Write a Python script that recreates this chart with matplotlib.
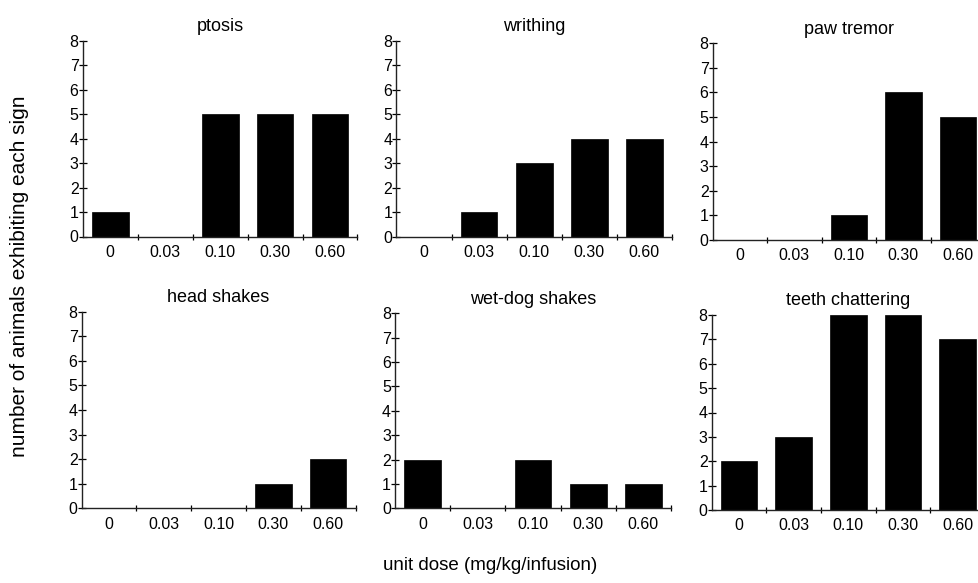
import matplotlib
matplotlib.use("Agg")
import matplotlib.pyplot as plt
import numpy as np

plt.rcParams['font.family'] = ['Liberation Sans', 'DejaVu Sans']

doses = ["0", "0.03", "0.10", "0.30", "0.60"]
titles = ["ptosis", "writhing", "paw tremor", "head shakes", "wet-dog shakes", "teeth chattering"]
ptosis = [1, 0, 5, 5, 5]
writhing = [0, 1, 3, 4, 4]
paw_tremor = [0, 0, 1, 6, 5]
head_shakes = [0, 0, 0, 1, 2]
wet_dog_shakes = [2, 0, 2, 1, 1]
teeth_chattering = [2, 3, 8, 8, 7]
series = [ptosis, writhing, paw_tremor, head_shakes, wet_dog_shakes, teeth_chattering]
yticks = list(range(0, 9))

W, H = 979, 583
fig = plt.figure(figsize=(W / 100, H / 100), dpi=100)

# pixel boxes: left, right, top, bottom
boxes = [
    (82.7, 357.5, 40.7, 236.5),
    (396.5, 671.7, 40.7, 237.0),
    (712.7, 985.0, 43.3, 240.0),
    (81.7, 355.5, 311.7, 508.3),
    (395.0, 671.0, 313.3, 508.3),
    (711.7, 985.0, 315.0, 510.0),
]

x = np.arange(len(doses))
for (l, r, t, b), title, vals in zip(boxes, titles, series):
    ax = fig.add_axes([l / W, 1 - b / H, (r - l) / W, (b - t) / H])
    ax.bar(x, vals, width=0.67, color="black", edgecolor="black", linewidth=0.5)
    ax.set_xlim(-0.5, 4.5)
    ax.set_ylim(0, 8)
    for s in ["top", "right"]:
        ax.spines[s].set_visible(False)
    for s in ["left", "bottom"]:
        ax.spines[s].set_linewidth(1.0)
        ax.spines[s].set_color("#222222")
    ax.set_yticks(yticks)
    ax.set_yticklabels([str(v) for v in yticks], fontsize=11.5)
    ax.tick_params(axis="y", direction="inout", length=6, width=0.9, pad=0)
    ax.set_xticks(x)
    ax.set_xticklabels(doses, fontsize=11.5)
    ax.set_xticks(np.arange(0.5, 5.0, 1.0), minor=True)
    ax.tick_params(axis="x", which="major", length=0, pad=6)
    ax.tick_params(axis="x", which="minor", direction="inout", length=5, width=0.9)
    ax.set_title(title, fontsize=13, pad=7)

fig.text(20 / W, 1 - 276 / H, "number of animals exhibiting each sign",
         rotation=90, ha="center", va="center", fontsize=15)
fig.text(490 / W, 1 - 566 / H, "unit dose (mg/kg/infusion)",
         ha="center", va="center", fontsize=13.5)

fig.savefig("out.png", dpi=100)
